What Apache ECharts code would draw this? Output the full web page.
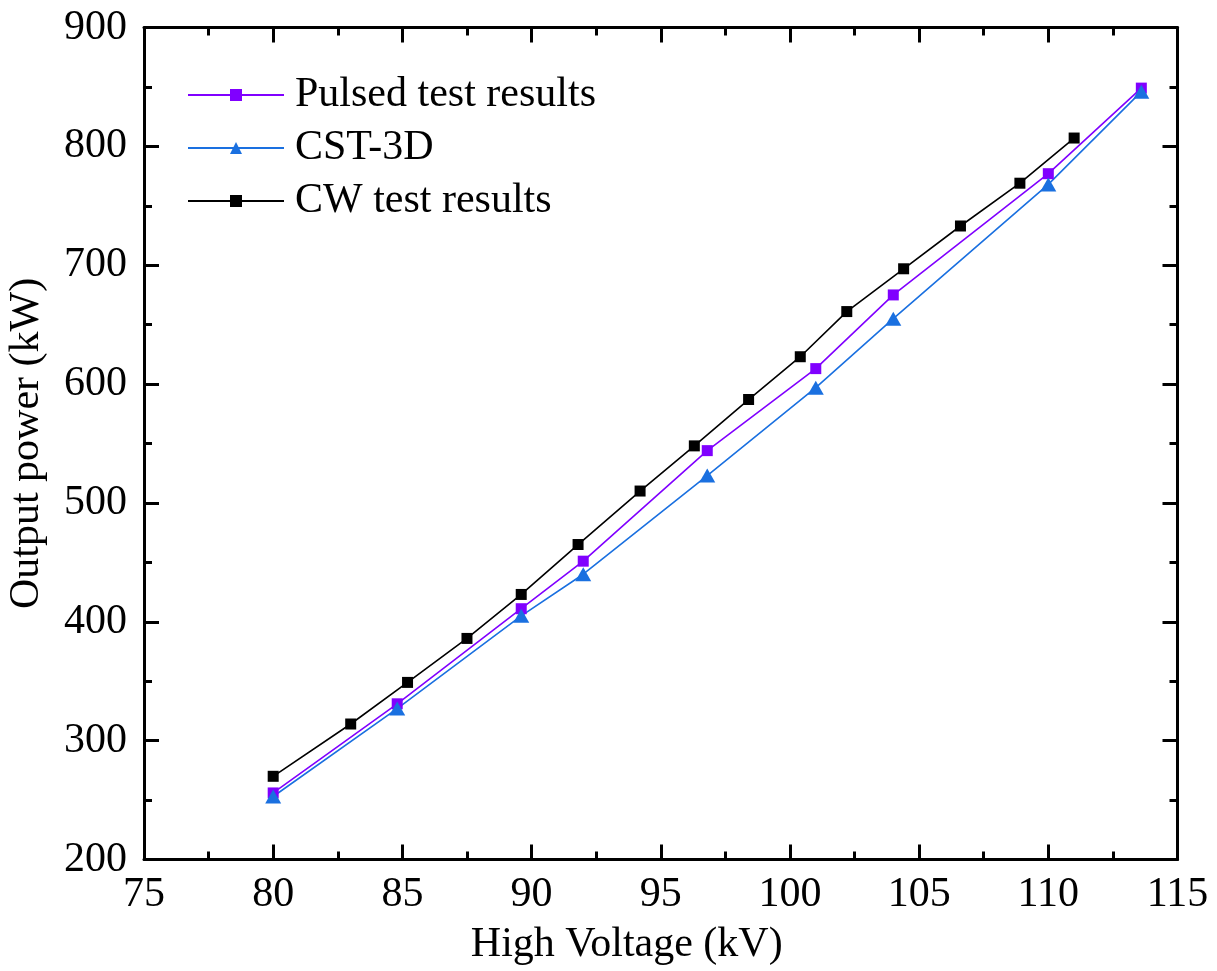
<!DOCTYPE html>
<html>
<head>
<meta charset="utf-8">
<script src="https://cdn.jsdelivr.net/npm/echarts@6/dist/echarts.min.js"></script>
<style>html,body{margin:0;padding:0;background:#fff;}#c{width:1217px;height:971px;}</style>
</head>
<body>
<div id="c"></div>
<script>
var pulsedX = [80, 84.8, 89.6, 92, 96.8, 101, 104, 110, 113.6];
var pulsedY = [256, 331, 411, 451, 544, 613, 675, 777, 849];
var cstX = [80, 84.8, 89.6, 92, 96.8, 101, 104, 110, 113.6];
var cstY = [253, 327, 405, 440, 523, 597, 655, 768, 846];
var cwX = [80, 83, 85.2, 87.5, 89.6, 91.8, 94.2, 96.3, 98.4, 100.4, 102.2, 104.4, 106.6, 108.9, 111];
var cwY = [270, 314, 349, 386, 423, 465, 510, 548, 587, 623, 661, 697, 733, 769, 807];
var seriesNames = ['Pulsed test results', 'CST-3D', 'CW test results'];
var xAxisName = 'High Voltage (kV)';
var yAxisName = 'Output power (kW)';

function pairs(xs, ys) { return xs.map(function (x, i) { return [x, ys[i]]; }); }

var FONT = 'Liberation Serif';
var axisCommon = {
  axisLine: { show: true, onZero: false, lineStyle: { color: '#000', width: 3 } },
  axisTick: { show: true, inside: true, length: 15, lineStyle: { color: '#000', width: 3 } },
  minorTick: { show: true, splitNumber: 2, length: 8, lineStyle: { color: '#000', width: 3 } },
  splitLine: { show: false },
  minorSplitLine: { show: false }
};
function ax(extra) { return Object.assign({}, JSON.parse(JSON.stringify(axisCommon)), extra); }

var chart = echarts.init(document.getElementById('c'));
chart.setOption({
  animation: false,
  backgroundColor: '#fff',
  grid: { left: 144, right: 39.5, top: 27.5, bottom: 111.5, outerBoundsMode: 'none' },
  legend: {
    orient: 'vertical', left: 182, top: 69,
    itemWidth: 96, itemHeight: 15, itemGap: 11, itemTextGap: 10,
    textStyle: { fontFamily: FONT, fontSize: 42, color: '#000', lineHeight: 42, padding: [0, 0, 0, 6] },
    itemStyle: { borderWidth: 0 },
    data: seriesNames
  },
  xAxis: [
    ax({ type: 'value', min: 75, max: 115, interval: 5, position: 'bottom',
      name: xAxisName, nameLocation: 'middle', nameGap: 64,
      nameTextStyle: { fontFamily: FONT, fontSize: 42, color: '#000', padding: [0, 68, 0, 0] },
      axisLabel: { fontFamily: FONT, fontSize: 42, color: '#000', margin: 14 } }),
    ax({ type: 'value', min: 75, max: 115, interval: 5, position: 'top', axisLabel: { show: false } })
  ],
  yAxis: [
    ax({ type: 'value', min: 200, max: 900, interval: 100, position: 'left',
      name: yAxisName, nameLocation: 'middle', nameGap: 96,
      nameTextStyle: { fontFamily: FONT, fontSize: 42, color: '#000' },
      axisLabel: { fontFamily: FONT, fontSize: 42, color: '#000', margin: 17 } }),
    ax({ type: 'value', min: 200, max: 900, interval: 100, position: 'right', axisLabel: { show: false } })
  ],
  series: [
    { name: seriesNames[0], type: 'line', xAxisIndex: 0, yAxisIndex: 0,
      data: pairs(pulsedX, pulsedY), symbol: 'rect', symbolSize: 11,
      lineStyle: { color: '#8000ff', width: 1.6 }, itemStyle: { color: '#8000ff' } },
    { name: seriesNames[1], type: 'line', xAxisIndex: 0, yAxisIndex: 0,
      data: pairs(cstX, cstY), symbol: 'triangle', symbolSize: [16, 14],
      lineStyle: { color: '#1a70e0', width: 1.6 }, itemStyle: { color: '#1a70e0' } },
    { name: seriesNames[2], type: 'line', xAxisIndex: 0, yAxisIndex: 0,
      data: pairs(cwX, cwY), symbol: 'rect', symbolSize: 11,
      lineStyle: { color: '#000', width: 1.6 }, itemStyle: { color: '#000' } }
  ]
});
</script>
</body>
</html>
